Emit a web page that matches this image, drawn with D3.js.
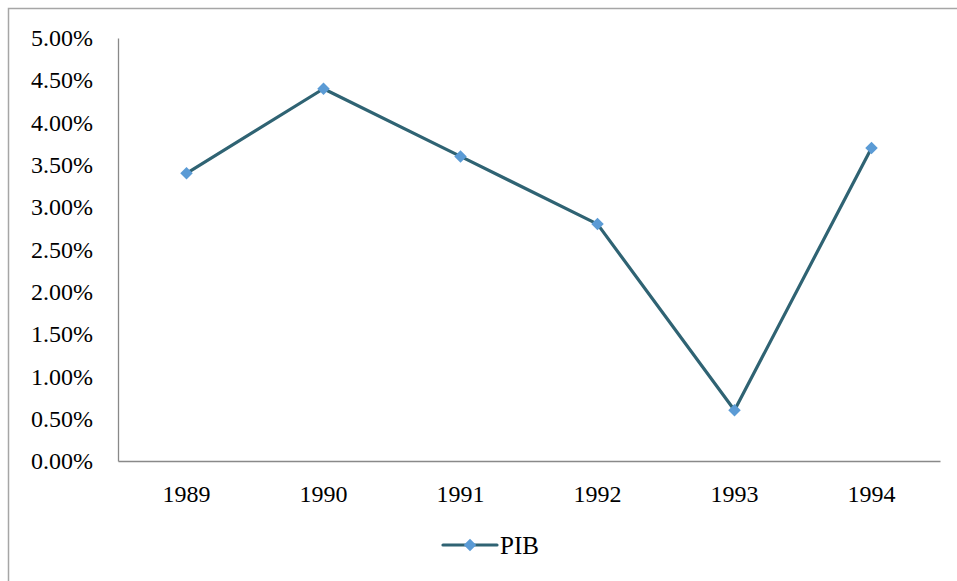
<!DOCTYPE html>
<html><head><meta charset="utf-8">
<script src="https://cdn.jsdelivr.net/npm/d3@7"></script>
<style>html,body{margin:0;padding:0;background:#fff;overflow:hidden}</style>
</head><body>
<svg id="c" width="957" height="581"></svg>
<script>
const years = ["1989","1990","1991","1992","1993","1994"];
const pib = [0.034, 0.044, 0.036, 0.028, 0.006, 0.037];
const yTicks = [0,0.005,0.01,0.015,0.02,0.025,0.03,0.035,0.04,0.045,0.05];
const seriesName = "PIB";

const svg = d3.select("#c");
const W = 957, H = 581;
const m = {left:118, right:17, top:38, bottom:120};
const lineColor = "#2F6373", markColor = "#5B9BD5";
const font = "'Liberation Serif','Times New Roman',serif";

svg.append("rect").attr("x",8.5).attr("y",8.5).attr("width",W+10).attr("height",H+10)
  .attr("fill","#fff").attr("stroke","#a6a6a6").attr("stroke-width",1.5);

const x = d3.scaleBand().domain(years).range([m.left, W-m.right]);
const y = d3.scaleLinear().domain([0,0.05]).range([H-m.bottom, m.top]);

const yAxis = svg.append("g").attr("transform",`translate(${m.left},0)`)
  .call(d3.axisLeft(y).tickValues(yTicks).tickFormat(d3.format(".2%")).tickSize(0).tickPadding(25));
yAxis.select(".domain").attr("stroke","#898989").attr("stroke-width",1.3);
yAxis.selectAll("text").attr("font-family",font).attr("font-size",24).attr("fill","#000");

const xAxis = svg.append("g").attr("transform",`translate(0,${H-m.bottom})`)
  .call(d3.axisBottom(x).tickSize(0).tickPadding(24));
xAxis.select(".domain").attr("stroke","#898989").attr("stroke-width",1.3);
xAxis.selectAll("text").attr("font-family",font).attr("font-size",24).attr("fill","#000");

const cx = (d,i)=> x(years[i]) + x.bandwidth()/2;
svg.append("path").datum(pib)
  .attr("d", d3.line().x((d,i)=>cx(d,i)).y(d=>y(d)))
  .attr("fill","none").attr("stroke",lineColor).attr("stroke-width",3.2).attr("stroke-linejoin","round");

const diamond = d3.symbol().type(d3.symbolSquare).size(78);
svg.selectAll(".mk").data(pib).join("path").attr("class","mk")
  .attr("d", diamond)
  .attr("transform",(d,i)=>`translate(${cx(d,i)},${y(d)}) rotate(45)`)
  .attr("fill",markColor);

// legend
const lg = svg.append("g").attr("transform","translate(443,545)");
lg.append("line").attr("x1",0).attr("x2",54).attr("y1",0).attr("y2",0)
  .attr("stroke",lineColor).attr("stroke-width",3.2).attr("stroke-linecap","round");
lg.append("path").attr("d",diamond).attr("transform","translate(27,0) rotate(45)").attr("fill",markColor);
lg.append("text").attr("x",57).attr("y",0).attr("dy","0.35em").text(seriesName)
  .attr("font-family",font).attr("font-size",25).attr("fill","#000");
</script>
</body></html>
